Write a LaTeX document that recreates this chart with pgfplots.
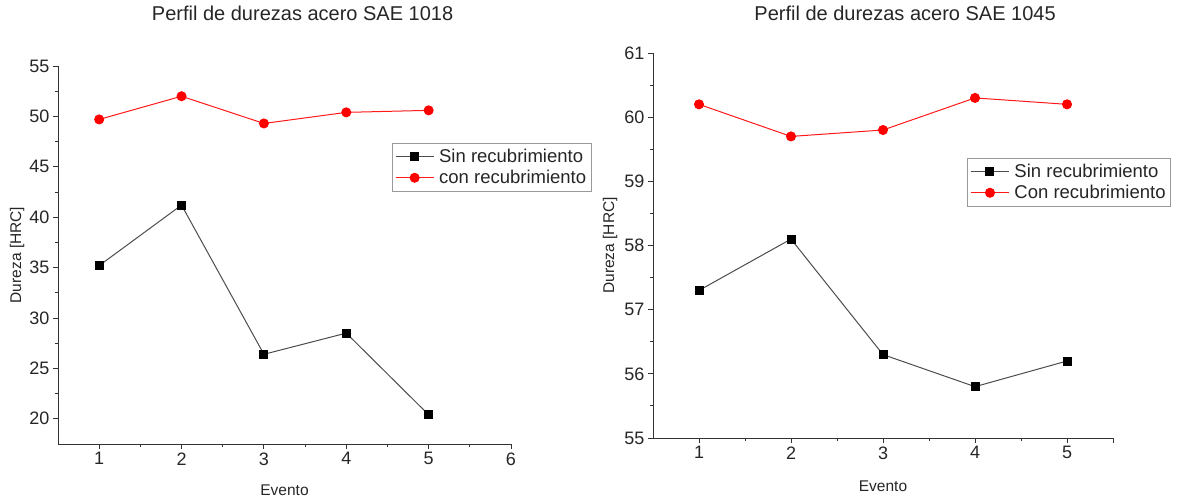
\documentclass[border=0pt]{standalone}
\usepackage{fontspec}
\setmainfont{Liberation Sans}
\usepackage{pgfplots}
\pgfplotsset{compat=1.18}
\begin{document}
\begin{tikzpicture}[x=1pt,y=1pt]
\path (0,0) rectangle (1183,498);
\pgfplotsset{
 common/.style={
  scale only axis, axis lines*=left, tick align=outside,
  axis line style={color=black!80, line width=0.9pt},
  major tick length=5pt, minor tick length=3pt,
  every tick/.style={black!80, line width=0.9pt},
  minor x tick num=1, minor y tick num=1,
  tick label style={font=\fontsize{18}{18}\selectfont, color=black!85},
  /pgf/number format/assume math mode=true,
  label style={font=\fontsize{15.5}{15.5}\selectfont, color=black!85},
  title style={font=\fontsize{20}{20}\selectfont, color=black!85, anchor=center},
  legend style={draw=black!40, line width=0.6pt, font=\fontsize{18.5}{18.5}\selectfont, anchor=north west,
    row sep=2pt, column sep=3pt, inner xsep=3pt, inner ysep=4pt, text=black!85},
  legend cell align=left,
  legend image code/.code={\draw[mark repeat=2,mark phase=2] plot coordinates {(0pt,0pt) (19pt,0pt) (38pt,0pt)};},
  clip=false,
 },
 sin/.style={color=black!70, line width=1pt, mark=square*, mark size=4pt, mark options={solid, fill=black, draw=black}},
 con/.style={color=red!90, line width=1pt, mark=*, mark size=4.5pt, mark options={solid, fill=red, draw=red}},
}
\begin{axis}[common,
  at={(58pt,54pt)}, anchor=south west, width=453pt, height=378pt,
  xmin=0.5, xmax=6, ymin=17.5, ymax=55,
  xtick={1,2,3,4,5,6}, ytick={20,25,30,35,40,45,50,55},
  title={Perfil de durezas acero SAE 1018},
  title style={at={(axis description cs:0.54,1)}, yshift=47pt},
  xlabel={Evento}, xlabel style={at={(axis description cs:0.5,0)}, anchor=center, yshift=-46pt},
  ylabel={Dureza [HRC]}, ylabel style={at={(axis description cs:-0.0905,0.5)}, anchor=center},
  legend style={at={(axis description cs:0.737,0.796)}},
]
\addplot[sin] coordinates {(1,35.2) (2,41.2) (3,26.4) (4,28.5) (5,20.4)};
\addlegendentry{Sin recubrimiento}
\addplot[con] coordinates {(1,49.7) (2,52.0) (3,49.3) (4,50.4) (5,50.6)};
\addlegendentry{con recubrimiento}
\end{axis}
\begin{axis}[common,
  at={(653pt,60pt)}, anchor=south west, width=460pt, height=385pt,
  xmin=0.5, xmax=5.5, ymin=55, ymax=61,
  xtick={1,2,3,4,5}, ytick={55,56,57,58,59,60,61},
  extra x ticks={5.5}, extra x tick labels={},
  title={Perfil de durezas acero SAE 1045},
  title style={at={(axis description cs:0.548,1)}, yshift=34pt},
  xlabel={Evento}, xlabel style={at={(axis description cs:0.5,0)}, anchor=center, yshift=-48pt},
  ylabel={Dureza [HRC]}, ylabel style={at={(axis description cs:-0.0935,0.5)}, anchor=center},
  legend style={at={(axis description cs:0.683,0.727)}},
]
\addplot[sin] coordinates {(1,57.3) (2,58.1) (3,56.3) (4,55.8) (5,56.2)};
\addlegendentry{Sin recubrimiento}
\addplot[con] coordinates {(1,60.2) (2,59.7) (3,59.8) (4,60.3) (5,60.2)};
\addlegendentry{Con recubrimiento}
\end{axis}
\end{tikzpicture}
\end{document}
